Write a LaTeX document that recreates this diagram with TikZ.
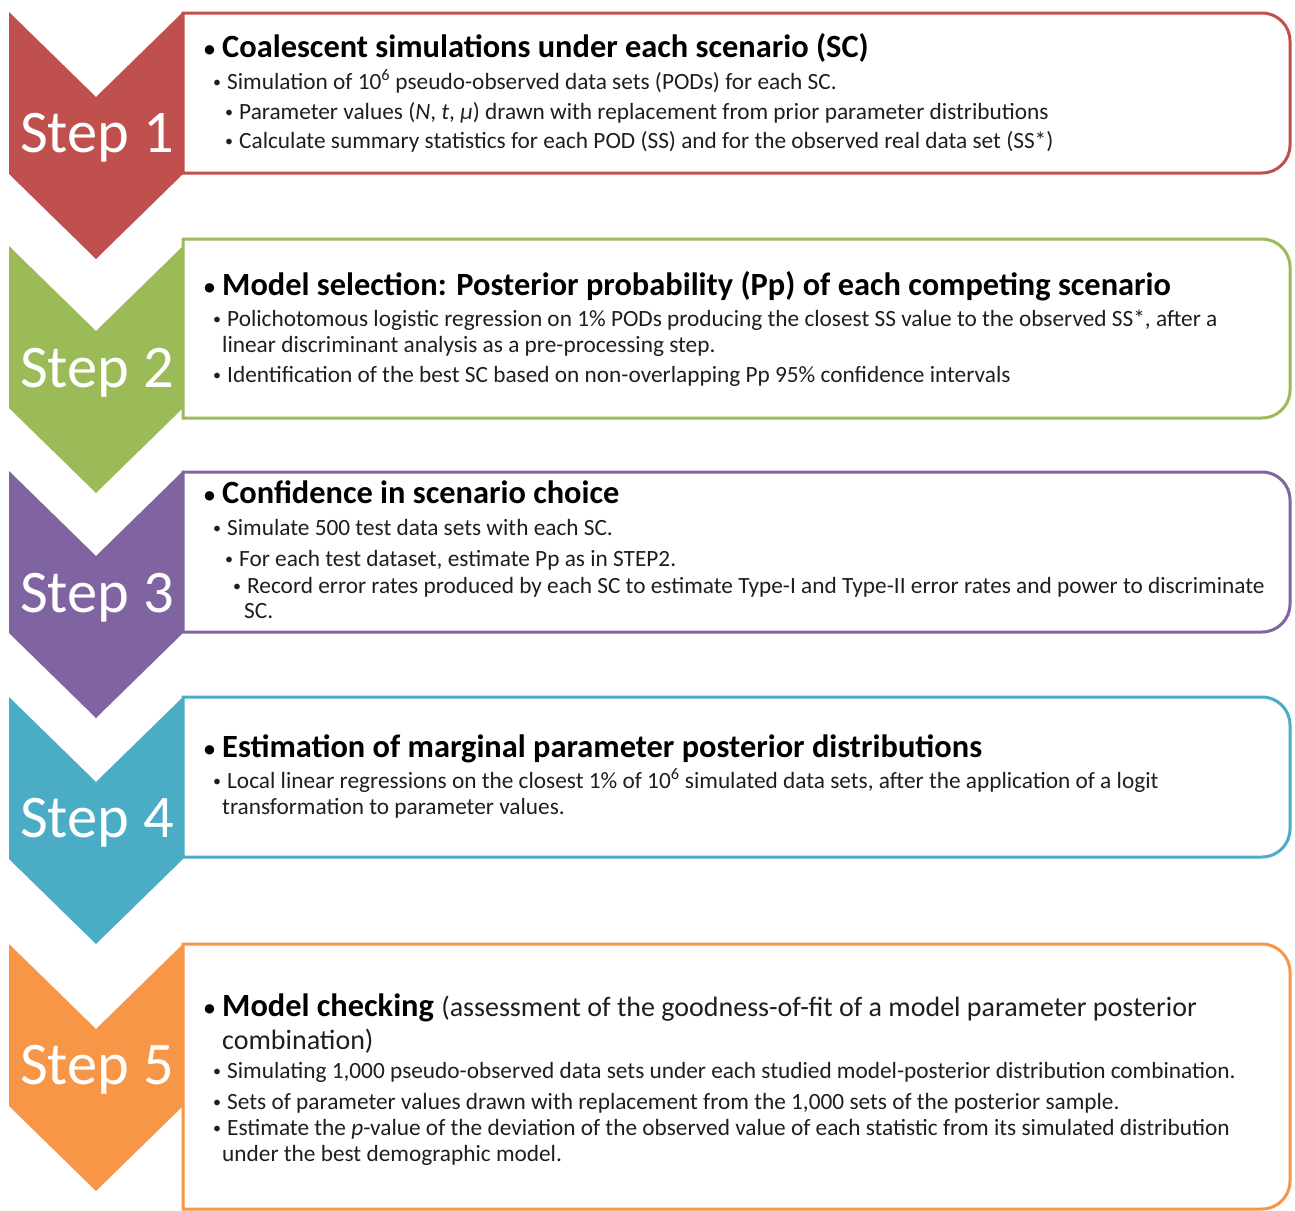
\documentclass[tikz,border=0pt]{standalone}
\usepackage{fontspec}
\setmainfont{Carlito}
\definecolor{cRed}{HTML}{C0504D}
\definecolor{cGreen}{HTML}{9BBB59}
\definecolor{cPurple}{HTML}{8064A2}
\definecolor{cTeal}{HTML}{4BACC6}
\definecolor{cOrange}{HTML}{F79646}
\definecolor{cText}{HTML}{1E1E1E}
\newcommand\hbu{\makebox[18pt][l]{\raisebox{1pt}{\fontsize{22}{22}\selectfont\textbullet}}}
\newcommand\sbu{\makebox[14pt][l]{\raisebox{1.8pt}{\fontsize{16}{16}\selectfont\textbullet}}}
\tikzset{
  x=1pt, y=1pt,
  head/.style={anchor=west, inner sep=0pt, text height=22pt, text depth=7pt, font=\fontsize{32.4}{36}\selectfont\bfseries, text=black},
  headn/.style={anchor=west, inner sep=0pt, text height=20pt, text depth=6pt, font=\fontsize{28}{33}\selectfont, text=cText},
  line/.style={anchor=west, inner sep=0pt, text height=16pt, text depth=5pt, font=\fontsize{23.3}{27}\selectfont, text=cText},
  steplabel/.style={inner sep=0pt, font=\fontsize{60.5}{62}\selectfont, text=white},
}
\newcommand\chev[2]{% colour, top
  \fill[#1] (9,-#2) -- (96,-#2-85) -- (183,-#2) -- (183,-#2-162) -- (96,-#2-247) -- (9,-#2-162) -- cycle;
}
\newcommand\rbox[3]{% colour, top, bottom
  \draw[#1, line width=3pt, fill=white] (183,-#2) -- (1262,-#2) arc[start angle=90, end angle=0, radius=28] -- (1290,-#3+28) arc[start angle=0, end angle=-90, radius=28] -- (183,-#3) -- cycle;
}
\begin{document}
\begin{tikzpicture}
\useasboundingbox (0,0) rectangle (1295,-1210);
\fill[white] (0,0) rectangle (1295,-1210);
\begin{scope}
\clip (0,0) rectangle (1295,-1210);
% boxes
\rbox{cRed}{13}{173}
\rbox{cGreen}{239}{418}
\rbox{cPurple}{472}{632}
\rbox{cTeal}{697}{857}
\rbox{cOrange}{944}{1209}
% chevrons
\chev{cRed}{12}
\chev{cGreen}{246}
\chev{cPurple}{471}
\chev{cTeal}{697}
\chev{cOrange}{944}
\end{scope}
% step labels
\node[steplabel] (s1) at (97,-138) {Step 1};
\node[steplabel] (s2) at (97,-373) {Step 2};
\node[steplabel] (s3) at (97,-598) {Step 3};
\node[steplabel] (s4) at (97,-823) {Step 4};
\node[steplabel] (s5) at (97,-1070) {Step 5};
% box 1
\node[head] (h1) at (204,-50) {\hbu Coalescent simulations under each scenario (SC)};
\node[line] (b1a) at (213,-84) {\sbu Simulation of 10\textsuperscript{6} pseudo-observed data sets (PODs) for each SC.};
\node[line] (b1b) at (225,-114) {\sbu Parameter values (\textit{N}, \textit{t}, \textit{μ}) drawn with replacement from prior parameter distributions};
\node[line] (b1c) at (225,-143) {\sbu Calculate summary statistics for each POD (SS) and for the observed real data set (SS*)};
% box 2
\node[head] (h2) at (204,-288) {\hbu Model selection: Posterior probability (Pp) of each competing scenario};
\node[line] (b2a) at (213,-321) {\sbu Polichotomous logistic regression on 1\% PODs producing the closest SS value to the observed SS*, after a};
\node[line] (b2b) at (222,-347) {linear discriminant analysis as a pre-processing step.};
\node[line] (b2c) at (213,-377) {\sbu Identification of the best SC based on non-overlapping Pp 95\% confidence intervals};
% box 3
\node[head] (h3) at (204,-496) {\hbu Confidence in scenario choice};
\node[line] (b3a) at (213,-530) {\sbu Simulate 500 test data sets with each SC.};
\node[line] (b3b) at (225,-561) {\sbu For each test dataset, estimate Pp as in STEP2.};
\node[line] (b3c) at (233,-588) {\sbu Record error rates produced by each SC to estimate Type-I and Type-II error rates and power to discriminate};
\node[line] (b3d) at (244,-613) {SC.};
% box 4
\node[head] (h4) at (204,-750) {\hbu Estimation of marginal parameter posterior distributions};
\node[line] (b4a) at (213,-783) {\sbu Local linear regressions on the closest 1\% of 10\textsuperscript{6} simulated data sets, after the application of a logit};
\node[line] (b4b) at (222,-809) {transformation to parameter values.};
% box 5
\node[head] (h5) at (204,-1009) {\hbu Model checking {\fontsize{28}{33}\selectfont\mdseries\color{cText}(assessment of the goodness-of-fit of a model parameter posterior}};
\node[headn] (h5b) at (222,-1042) {combination)};
\node[line] (b5a) at (213,-1073) {\sbu Simulating 1,000 pseudo-observed data sets under each studied model-posterior distribution combination.};
\node[line] (b5b) at (213,-1104) {\sbu Sets of parameter values drawn with replacement from the 1,000 sets of the posterior sample.};
\node[line] (b5c) at (213,-1130) {\sbu Estimate the \textit{p}-value of the deviation of the observed value of each statistic from its simulated distribution};
\node[line] (b5d) at (222,-1156) {under the best demographic model.};
\end{tikzpicture}
\end{document}
